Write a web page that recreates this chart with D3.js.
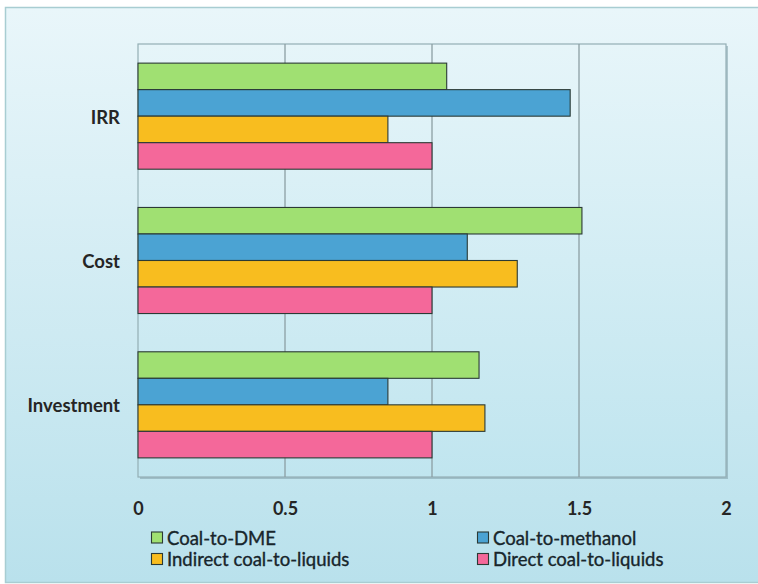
<!DOCTYPE html>
<html>
<head>
<meta charset="utf-8">
<script src="https://cdn.jsdelivr.net/npm/d3@7/dist/d3.min.js"></script>
<style>
  html, body { margin: 0; padding: 0; background: #ffffff; }
  svg { display: block; }
</style>
</head>
<body>
<svg id="chart" width="758" height="584"></svg>
<script>
// Categories, drawn top to bottom
const categories = ["IRR", "Cost", "Investment"];
// Series, in bar order within each group (top to bottom)
const seriesNames = ["Coal-to-DME", "Coal-to-methanol", "Indirect coal-to-liquids", "Direct coal-to-liquids"];
const seriesColors = ["#a0e072", "#4ba3d3", "#f8bd1f", "#f4689a"];
// Values per series, aligned with categories
const coalToDME = [1.05, 1.51, 1.16];
const coalToMethanol = [1.47, 1.12, 0.85];
const indirectCTL = [0.85, 1.29, 1.18];
const directCTL = [1.0, 1.0, 1.0];
const xTicks = [0, 0.5, 1, 1.5, 2];

const seriesValues = [coalToDME, coalToMethanol, indirectCTL, directCTL];

const svg = d3.select("#chart");
const W = 758, H = 584;
const FONT = "Lato, 'Open Sans', sans-serif";

const defs = svg.append("defs");
const bgGrad = defs.append("linearGradient").attr("id", "bgGrad")
  .attr("x1", 0).attr("y1", 0).attr("x2", 0).attr("y2", 1);
bgGrad.append("stop").attr("offset", "0%").attr("stop-color", "#e9f6fa");
bgGrad.append("stop").attr("offset", "100%").attr("stop-color", "#b9e1ec");

const plotGrad = defs.append("linearGradient").attr("id", "plotGrad")
  .attr("x1", 0).attr("y1", 0).attr("x2", 0).attr("y2", 1);
plotGrad.append("stop").attr("offset", "0%").attr("stop-color", "#e6f5f9");
plotGrad.append("stop").attr("offset", "100%").attr("stop-color", "#c0e5ef");

// Chart frame
svg.append("rect").attr("x", 0).attr("y", 0).attr("width", W).attr("height", H).attr("fill", "#ffffff");
svg.append("rect").attr("x", 5.5).attr("y", 7.5).attr("width", W).attr("height", H - 9)
  .attr("fill", "url(#bgGrad)").attr("stroke", "#a8cdd2").attr("stroke-width", 1.5);

const margin = { left: 138, top: 44, right: 758 - 726, bottom: 584 - 477 };
const pw = W - margin.left - margin.right;
const ph = H - margin.top - margin.bottom;

const x = d3.scaleLinear().domain([0, 2]).range([margin.left, margin.left + pw]);
const y0 = d3.scaleBand().domain(categories).range([margin.top, margin.top + ph]).paddingInner(0.265).paddingOuter(0.1325);
const y1 = d3.scaleBand().domain(seriesNames).range([0, y0.bandwidth()]);

// Plot area with a soft drop shadow on the right and bottom
svg.append("rect").attr("x", margin.left + 2).attr("y", margin.top + 2).attr("width", pw).attr("height", ph)
  .attr("fill", "#7f9fa8").attr("opacity", 0.55);
svg.append("rect").attr("x", margin.left).attr("y", margin.top).attr("width", pw).attr("height", ph)
  .attr("fill", "url(#plotGrad)").attr("stroke", "#93aeb4").attr("stroke-width", 1.2);

// Vertical gridlines
svg.append("g").selectAll("line").data(xTicks.slice(1, -1)).join("line")
  .attr("x1", d => x(d)).attr("x2", d => x(d))
  .attr("y1", margin.top).attr("y2", margin.top + ph)
  .attr("stroke", "#8c9ea3").attr("stroke-width", 1.3);

// Bars
const groups = svg.append("g").selectAll("g").data(categories).join("g")
  .attr("transform", d => `translate(0,${y0(d)})`);
groups.selectAll("rect")
  .data((c, ci) => seriesNames.map((s, si) => ({ s, si, v: seriesValues[si][ci] })))
  .join("rect")
  .attr("x", x(0))
  .attr("y", d => y1(d.s))
  .attr("width", d => x(d.v) - x(0))
  .attr("height", y1.bandwidth())
  .attr("fill", (d) => seriesColors[d.si])
  .attr("stroke", "#2b3a35").attr("stroke-width", 1.1);

// Category labels
svg.append("g").selectAll("text").data(categories).join("text")
  .attr("x", 120).attr("y", d => y0(d) + y0.bandwidth() / 2 + 1)
  .attr("dy", "0.35em").attr("text-anchor", "end")
  .attr("font-family", FONT).attr("font-weight", "bold")
  .attr("font-size", 18.5).attr("fill", "#252525")
  .text(d => d);

// X axis tick labels
const xAxis = d3.axisBottom(x).tickValues(xTicks).tickFormat(d3.format("")).tickSize(0).tickPadding(0);
const gx = svg.append("g").attr("transform", `translate(0,${margin.top + ph + 25})`).call(xAxis);
gx.select(".domain").remove();
gx.selectAll("text")
  .attr("font-family", FONT).attr("font-weight", "bold")
  .attr("font-size", 18).attr("fill", "#252525");

// Legend
const legendPos = [[151, 537.5], [477, 537.5], [151, 559], [477, 559]];
const lg = svg.append("g").selectAll("g").data(seriesNames).join("g")
  .attr("transform", (d, i) => `translate(${legendPos[i][0]},${legendPos[i][1]})`);
lg.append("rect").attr("x", 0.5).attr("y", -5.5).attr("width", 11).attr("height", 11)
  .attr("fill", (d, i) => seriesColors[i]).attr("stroke", "#2b3a35").attr("stroke-width", 1.1);
lg.append("text").attr("x", 16).attr("y", 1).attr("dy", "0.35em")
  .attr("font-family", FONT)
  .attr("font-size", 18.5).attr("fill", "#17252b")
  .attr("stroke", "#17252b").attr("stroke-width", 0.35)
  .text(d => d);
</script>
</body>
</html>
